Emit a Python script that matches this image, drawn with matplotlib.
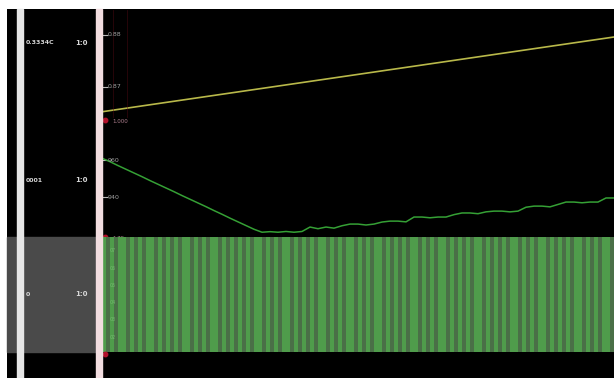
"""Waveform viewer style capture: analog ramp, quantized signal and a toggling bit."""

import matplotlib

matplotlib.use("Agg")

import matplotlib.pyplot as plt
from matplotlib.patches import Rectangle

W, H = 614, 378

# --- data -----------------------------------------------------------------
# row 1: analog ramp (time in samples, value)
ramp_t = [0, 256, 512]
ramp_v = [0.8652, 0.8724, 0.8796]
ramp_ticks = [0.87, 0.88]
ramp_ylim = (0.8640, 0.8848)

# row 2: quantized signal, one value every 8 samples
quant_step = 8
quant_v = [
    961.0, 959.1, 957.0, 955.0, 953.0, 951.0, 948.9, 946.9, 944.9, 942.9,
    940.8, 938.8, 936.8, 934.8, 932.7, 930.7, 928.6, 926.6, 924.6, 922.6,
    921.0, 921.3, 921.0, 921.4, 921.0, 921.4, 923.8, 922.9, 923.8, 923.2,
    924.5, 925.4, 925.4, 924.9, 925.4, 926.5, 927.0, 927.0, 926.6, 929.2,
    929.2, 928.8, 929.2, 929.2, 930.5, 931.4, 931.4, 931.0, 932.0, 932.4,
    932.4, 932.0, 932.4, 934.5, 935.1, 935.1, 934.7, 936.0, 937.3, 937.3,
    936.9, 937.3, 937.3, 939.5, 939.5,
]
quant_ticks = [940, 960]
quant_ylim = (919.5, 982.7)

# row 3: toggling bit, one state every 4 samples
bit_step = 4
bits = (
    "10101101010110101010110101011010"
    "10101011010101101010101101010110"
    "10101101010101101010110101010110"
    "10101011010101101010101101010110"
)
bit_ticks = ["07", "06", "05", "04", "03", "02"]

names = ["0.3334C", "0001", "0"]
ranges = ["1:0", "1:0", "1:0"]
marker_text = ["1.000", "1.75", ""]

# --- figure ---------------------------------------------------------------
fig = plt.figure(figsize=(W / 100, H / 100), dpi=100, facecolor="white")


def box(x0, y0, x1, y1):
    """Pixel box (top-left origin) to figure rect."""
    return [x0 / W, 1 - y1 / H, (x1 - x0) / W, (y1 - y0) / H]


bg = fig.add_axes(box(7, 9, W, H))
bg.set_facecolor("black")
bg.set_xticks([])
bg.set_yticks([])
for s in bg.spines.values():
    s.set_visible(False)

# left name panel: gray band for the selected row, separator bars
fig.patches.append(Rectangle((7 / W, 1 - 352 / H), 89 / W, 115 / H,
                             transform=fig.transFigure, color="#4a4a4a", zorder=1))
fig.patches.append(Rectangle((17 / W, 0), 6 / W, (H - 9) / H,
                             transform=fig.transFigure, color="#e6e6e6", zorder=2))
fig.patches.append(Rectangle((96 / W, 0), 6 / W, (H - 9) / H,
                             transform=fig.transFigure, color="#f2dde0", zorder=2))

name_y = [43, 180, 294]
for name, rng, y in zip(names, ranges, name_y):
    fig.text(26 / W, 1 - y / H, name, color="#d8d8d8", fontsize=4.5,
             va="center", ha="left", weight="bold", zorder=3)
    fig.text(88 / W, 1 - y / H, rng, color="#d8d8d8", fontsize=5,
             va="center", ha="right", weight="bold", zorder=3)

rows = [(10, 118), (118, 235), (237, 352)]
axes = [fig.add_axes(box(102, y0, W, y1)) for y0, y1 in rows]
for ax in axes:
    ax.set_facecolor("none")
    ax.set_xlim(0, 512)
    ax.set_xticks([])
    for s in ax.spines.values():
        s.set_visible(False)
    ax.tick_params(axis="y", direction="in", length=4, width=0.8,
                   color="#bbbbbb", labelleft=False)

# row 1
ax1 = axes[0]
ax1.plot(ramp_t, ramp_v, color="#b8b84a", lw=1.2)
ax1.set_ylim(*ramp_ylim)
ax1.set_yticks(ramp_ticks)
for v in ramp_ticks:
    ax1.text(6, v, f"{v:.2f}", color="#a0a0a0", fontsize=4.5, va="center")
for t in (11, 25):
    ax1.axvline(t, color="#5a0a14", lw=0.6, alpha=0.5)

# row 2
ax2 = axes[1]
quant_t = [i * quant_step for i in range(len(quant_v))]
ax2.plot(quant_t, quant_v, color="#35a035", lw=1.1)
ax2.set_ylim(*quant_ylim)
ax2.set_yticks(quant_ticks)
for v in quant_ticks:
    ax2.text(6, v, f"{v}", color="#a0a0a0", fontsize=4.5, va="center")

# row 3
ax3 = axes[2]
bit_t = [i * bit_step for i in range(len(bits))]
bit_colors = ["#4f9c4b" if b == "1" else "#4a6f47" for b in bits]
ax3.bar(bit_t, 1, width=bit_step, align="edge", color=bit_colors, linewidth=0)
ax3.set_ylim(0, 1)
ax3.set_yticks([])
for i, lbl in enumerate(bit_ticks):
    ax3.text(8, 0.88 - i * 0.15, lbl, color="#8fcf8a", fontsize=3.5,
             va="center", alpha=0.6)

# red cursor markers at the bottom of each row
for ax, txt in zip(axes, marker_text):
    ax.plot([3], [-0.02], "o", color="#b0102a", ms=3.2,
            transform=ax.get_xaxis_transform(), clip_on=False, zorder=5)
    if txt:
        ax.text(10, -0.03, txt, color="#b08090", fontsize=4,
                transform=ax.get_xaxis_transform(), va="center")

fig.savefig("out.png", dpi=100, facecolor=fig.get_facecolor())
